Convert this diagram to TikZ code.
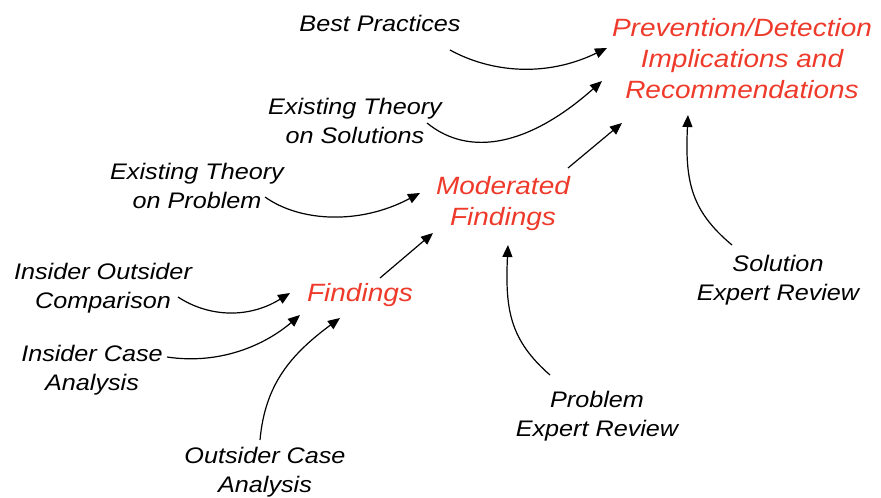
\documentclass[tikz,border=0pt]{standalone}
\usepackage{fontspec}
\newfontfamily\labfont{Liberation Sans}[FakeStretch=1.12]
\usetikzlibrary{arrows.meta}
\definecolor{hired}{RGB}{238,58,42}
\begin{document}
\begin{tikzpicture}[x=1pt,y=-1pt,
  src/.style={font=\labfont\itshape\fontsize{22.5}{29}\selectfont, align=center, inner sep=0pt, text=black},
  hub/.style={font=\labfont\itshape\fontsize{25}{31}\selectfont, align=center, inner sep=0pt, text=hired},
  conn/.style={line width=1.2pt, -{Triangle[length=12pt,width=10pt]}}]
\useasboundingbox (0,0) rectangle (881,498);
% nodes
\node[hub] (prev) at (742,59) {Prevention/Detection\\Implications and\\Recommendations};
\node[hub] (mod) at (503,204) {Moderated\\Findings};
\node[hub] (find) at (360,295) {Findings};
\node[src] (bp) at (380,23) {Best Practices};
\node[src] (ets) at (355,121) {Existing Theory\\on Solutions};
\node[src] (etp) at (197,186) {Existing Theory\\on Problem};
\node[src] (ioc) at (103,288) {Insider Outsider\\Comparison};
\node[src] (ica) at (92,370) {Insider Case\\Analysis};
\node[src] (oca) at (265,472) {Outsider Case\\Analysis};
\node[src] (per) at (597,416) {Problem\\Expert Review};
\node[src] (ser) at (778,280) {Solution\\Expert Review};
% connector end points
\coordinate (bp-o) at (450,50);   \coordinate (prev-a) at (607,48);
\coordinate (ets-o) at (427,123); \coordinate (prev-b) at (602,81);
\coordinate (mod-o) at (568,168); \coordinate (prev-c) at (622,123);
\coordinate (ser-o) at (732,245); \coordinate (prev-d) at (688,115);
\coordinate (etp-o) at (265,197); \coordinate (mod-a) at (420,193);
\coordinate (find-o) at (380,278); \coordinate (mod-b) at (433,233);
\coordinate (per-o) at (550,375); \coordinate (mod-c) at (508,245);
\coordinate (ioc-o) at (178,297); \coordinate (find-a) at (290,293);
\coordinate (ica-o) at (167,357); \coordinate (find-b) at (300,315);
\coordinate (oca-o) at (260,440); \coordinate (find-c) at (340,318);
% connectors
\draw[conn] (bp-o) .. controls (490,72) and (545,78) .. (prev-a);
\draw[conn] (ets-o) .. controls (470,158) and (530,145) .. (prev-b);
\draw[conn] (mod-o) -- (prev-c);
\draw[conn] (ser-o) .. controls (690,210) and (685,180) .. (prev-d);
\draw[conn] (etp-o) .. controls (300,222) and (360,225) .. (mod-a);
\draw[conn] (find-o) -- (mod-b);
\draw[conn] (per-o) .. controls (510,340) and (505,310) .. (mod-c);
\draw[conn] (ioc-o) .. controls (210,318) and (250,318) .. (find-a);
\draw[conn] (ica-o) .. controls (220,365) and (265,345) .. (find-b);
\draw[conn] (oca-o) .. controls (265,385) and (290,355) .. (find-c);
\end{tikzpicture}
\end{document}
